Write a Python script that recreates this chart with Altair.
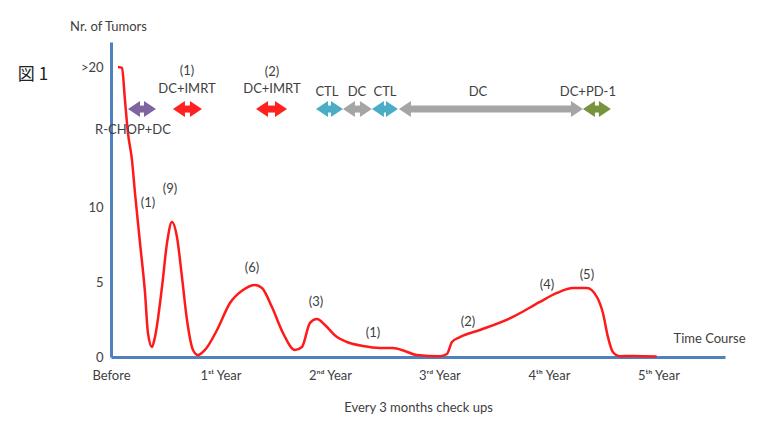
import altair as alt
import pandas as pd

# ---- tumour-count curve (months since start, number of tumours) ----
curve_month = [0.77, 1.21, 1.53, 1.86, 2.30, 2.63, 3.18, 3.73, 4.05, 4.49, 4.82, 5.59, 6.14, 6.68,
               7.23, 7.78, 8.33, 8.99, 9.53, 10.30, 11.62, 13.04, 14.47, 15.78, 16.55, 17.64,
               18.85, 20.16, 20.93, 21.81, 22.58, 23.45, 24.77, 25.86, 27.62, 29.48, 30.90,
               32.20, 33.50, 36.05, 36.82, 37.37, 38.25, 40.44, 44.05, 47.01, 48.88, 50.63,
               52.16, 53.26, 53.92, 54.47, 55.01, 55.78, 57.20, 59.80]
curve_count = [19.33, 19.27, 17.13, 14.93, 13.13, 10.93, 7.60, 4.27, 1.60, 0.67, 1.33, 4.67, 7.60, 9.00,
               8.00, 5.33, 2.47, 0.47, 0.13, 0.47, 1.80, 3.60, 4.47, 4.80, 4.60, 3.33,
               1.60, 0.47, 0.67, 2.27, 2.53, 2.13, 1.33, 1.00, 0.73, 0.60, 0.60,
               0.40, 0.13, 0.05, 0.20, 1.00, 1.33, 1.80, 2.67, 3.67, 4.27, 4.60,
               4.60, 4.00, 2.93, 1.33, 0.33, 0.05, 0.07, 0.03]

# ---- counts written next to the curve ----
count_text = ["(1)", "(9)", "(6)", "(3)", "(1)", "(2)", "(4)", "(5)"]
count_month = [4.05, 6.47, 15.45, 22.47, 28.71, 39.12, 47.78, 52.16]
count_y = [10.27, 11.2, 5.93, 3.67, 1.6, 2.33, 4.8, 5.47]

# ---- therapy periods ----
therapy_name = ["R-CHOP+DC", "DC+IMRT", "DC+IMRT", "CTL", "DC", "CTL", "DC", "DC+PD-1"]
therapy_start = [1.86, 6.79, 15.89, 22.47, 25.42, 28.60, 31.56, 51.73]
therapy_end = [4.93, 9.97, 19.29, 25.42, 28.60, 31.45, 51.73, 54.79]
therapy_color = ["#8064a2", "#ff2020", "#ff2020", "#4bacc6", "#a5a5a5", "#4bacc6", "#a5a5a5", "#77933c"]
therapy_level = [16.53] * 8

# ---- therapy labels ----
tlabel_text = ["R-CHOP+DC", "(1)", "DC+IMRT", "(2)", "DC+IMRT", "CTL", "DC", "CTL", "DC", "DC+PD-1"]
tlabel_month = [2.41, 8.33, 8.33, 17.64, 17.64, 23.67, 26.96, 30.03, 40.22, 52.27]
tlabel_y = [15.13, 19.07, 17.87, 19.0, 17.87, 17.67, 17.67, 17.67, 17.67, 17.67]

# ---- other text ----
figure_text = ["図 1"]
figure_month = [-8.55]
figure_y = [18.8]
course_text = ["Time Course"]
course_month = [65.6]
course_y = [1.2]

# ---- axes ----
x_tick_values = [0, 12, 24, 36, 48, 60]
x_tick_labels = ["Before", "1ˢᵗ Year", "2ⁿᵈ Year", "3ʳᵈ Year", "4ᵗʰ Year", "5ᵗʰ Year"]
y_tick_values = [0, 5, 10, 19.3]
y_tick_labels = ["0", "5", "10", ">20"]


def label_expr(values, labels):
    expr = "''"
    for v, l in reversed(list(zip(values, labels))):
        expr = f"(abs(datum.value - {v}) < 0.01 ? '{l}' : {expr})"
    return expr


FONT = "Lato"
TXT = "#404040"
AXIS_BLUE = "#4f81bd"

curve_df = pd.DataFrame({"month": curve_month, "count": curve_count})
count_df = pd.DataFrame({"month": count_month, "y": count_y, "text": count_text})
ther_df = pd.DataFrame({"name": therapy_name, "start": therapy_start, "end": therapy_end,
                        "color": therapy_color, "level": therapy_level})
tlab_df = pd.DataFrame({"month": tlabel_month, "y": tlabel_y, "text": tlabel_text})
fig_df = pd.DataFrame({"month": figure_month, "y": figure_y, "text": figure_text})
course_df = pd.DataFrame({"month": course_month, "y": course_y, "text": course_text})

xscale = alt.Scale(domain=[0, 67.3], nice=False, zero=False)
yscale = alt.Scale(domain=[0, 21], nice=False)

x_axis = alt.Axis(values=x_tick_values, labelExpr=label_expr(x_tick_values, x_tick_labels),
                  domainColor=AXIS_BLUE, domainWidth=3, ticks=False, tickSize=0, grid=False,
                  labelFlush=False, labelOverlap=False,
                  labelFont=FONT, labelFontSize=13, labelColor=TXT, labelPadding=12,
                  title="Every 3 months check ups", titleFont=FONT, titleFontSize=13,
                  titleFontWeight="normal", titleColor=TXT, titleY=50, titleBaseline="middle")
y_axis = alt.Axis(values=y_tick_values, labelExpr=label_expr(y_tick_values, y_tick_labels),
                  domainColor=AXIS_BLUE, domainWidth=3, ticks=False, tickSize=0, grid=False,
                  labelFlush=False, labelOverlap=False,
                  labelFont=FONT, labelFontSize=13, labelColor=TXT, labelPadding=8,
                  title="Nr. of Tumors", titleFont=FONT, titleFontSize=13, titleFontWeight="normal",
                  titleColor=TXT, titleAngle=0, titleX=-3, titleY=-16, titleAlign="center",
                  titleBaseline="middle")

curve = alt.Chart(curve_df).mark_line(color="#ff1a1a", strokeWidth=2.5, interpolate="monotone").encode(
    x=alt.X("month:Q", scale=xscale, axis=x_axis),
    y=alt.Y("count:Q", scale=yscale, axis=y_axis),
)

counts = alt.Chart(count_df).mark_text(font=FONT, fontSize=13, color=TXT).encode(
    x=alt.X("month:Q", scale=xscale), y=alt.Y("y:Q", scale=yscale), text="text:N")

shaft = alt.Chart(ther_df).mark_rule(strokeWidth=7, strokeCap="butt", xOffset=6, x2Offset=-6).encode(
    x=alt.X("start:Q", scale=xscale), x2="end:Q", y=alt.Y("level:Q", scale=yscale),
    color=alt.Color("color:N", scale=None))

head_left = alt.Chart(ther_df).mark_point(shape="M0,0L1.5,-1L1.5,1Z", filled=True, size=64 * 4,
                                          opacity=1, strokeWidth=0).encode(
    x=alt.X("start:Q", scale=xscale), y=alt.Y("level:Q", scale=yscale),
    color=alt.Color("color:N", scale=None))

head_right = alt.Chart(ther_df).mark_point(shape="M0,0L-1.5,-1L-1.5,1Z", filled=True, size=64 * 4,
                                           opacity=1, strokeWidth=0).encode(
    x=alt.X("end:Q", scale=xscale), y=alt.Y("level:Q", scale=yscale),
    color=alt.Color("color:N", scale=None))

tlabels = alt.Chart(tlab_df).mark_text(font=FONT, fontSize=13, color=TXT).encode(
    x=alt.X("month:Q", scale=xscale), y=alt.Y("y:Q", scale=yscale), text="text:N")

fig = alt.Chart(fig_df).mark_text(font="Noto Sans CJK JP", fontSize=17, color="#222222").encode(
    x=alt.X("month:Q", scale=xscale), y=alt.Y("y:Q", scale=yscale), text="text:N")

course = alt.Chart(course_df).mark_text(font=FONT, fontSize=13, color=TXT).encode(
    x=alt.X("month:Q", scale=xscale), y=alt.Y("y:Q", scale=yscale), text="text:N")

chart = alt.layer(curve, counts, shaft, head_left, head_right, tlabels, fig, course).properties(
    width=614, height=315,
    padding={"left": 103, "top": 34, "right": 30, "bottom": 62},
    autosize=alt.AutoSizeParams(type="none"),
    background="white",
).configure_view(stroke=None)

chart.save("out.html", embed_options={"renderer": "svg", "actions": False})
